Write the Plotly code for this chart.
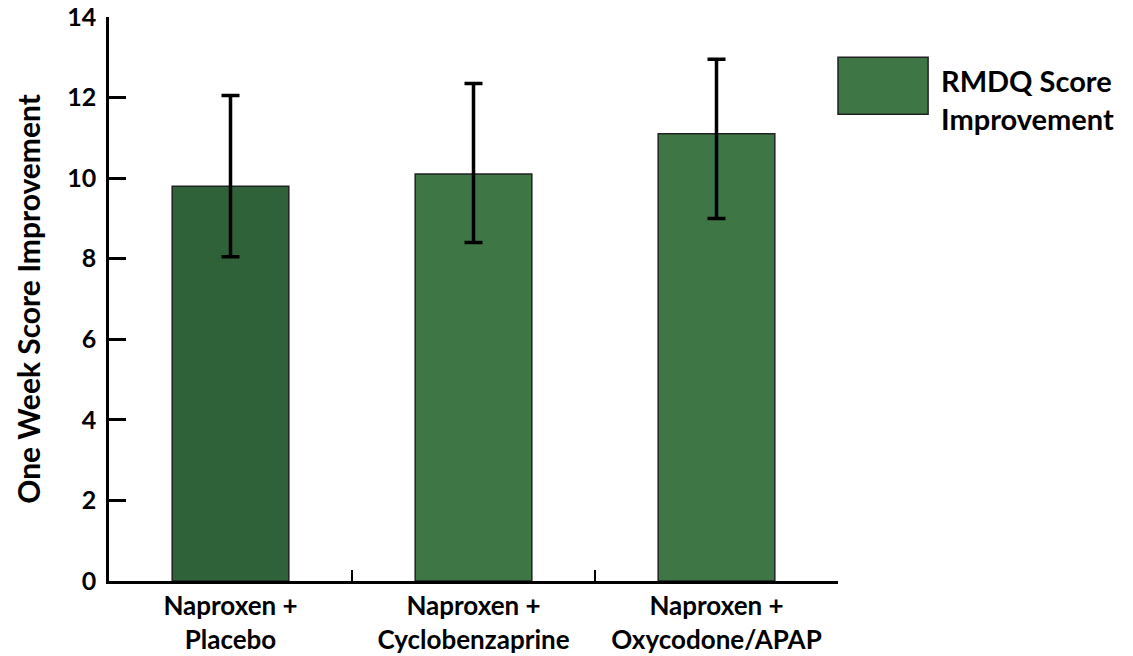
import plotly.graph_objects as go

# Treatment groups and one-week RMDQ score improvement
groups = ["Naproxen +<br>Placebo", "Naproxen +<br>Cyclobenzaprine", "Naproxen +<br>Oxycodone/APAP"]
improvement = [9.8, 10.1, 11.1]
err_upper = [2.25, 2.25, 1.85]   # distance to upper whisker
err_lower = [1.75, 1.7, 2.1]     # distance to lower whisker
bar_colors = ["#2f6238", "#3e7745", "#3e7745"]

y_ticks = [0, 2, 4, 6, 8, 10, 12, 14]

FONT = "Lato"

fig = go.Figure()
fig.add_trace(go.Bar(
    x=groups,
    y=improvement,
    width=0.48,
    marker=dict(color=bar_colors, line=dict(color="#222222", width=1.5)),
    error_y=dict(
        type="data", symmetric=False,
        array=err_upper, arrayminus=err_lower,
        color="black", thickness=3.5, width=9,
    ),
    showlegend=False,
))

# Legend swatch and label
fig.add_shape(type="rect", xref="paper", yref="paper",
              x0=1.0, x1=1.1236, y0=0.8274, y1=0.9288,
              fillcolor="#3e7745", line=dict(color="#222222", width=1.5))
fig.add_annotation(xref="paper", yref="paper", x=1.139, y=0.853,
                   xanchor="left", yanchor="middle", align="left",
                   showarrow=False,
                   text="<b>RMDQ Score<br>Improvement</b>",
                   font=dict(family=FONT, size=29, color="black"))

fig.update_layout(
    width=1133, height=656,
    margin=dict(l=109, r=295, t=17, b=75),
    paper_bgcolor="white", plot_bgcolor="white",
    font=dict(family=FONT, color="black"),
    bargap=0.52,
)

fig.update_xaxes(
    type="category", range=[-0.5, 2.5], automargin=False,
    showline=True, linecolor="black", linewidth=2.5,
    ticks="inside", tickson="boundaries", ticklen=11, tickwidth=2, tickcolor="black",
    tickfont=dict(family=FONT, size=26, color="black", weight="bold"),
    showgrid=False, zeroline=False,
)
fig.update_yaxes(
    range=[0, 14], tickvals=y_ticks, automargin=False,
    showline=True, linecolor="black", linewidth=2.5,
    ticks="inside", ticklen=17, tickwidth=2.5, tickcolor="black",
    tickfont=dict(family=FONT, size=25, color="black", weight="bold"),
    ticklabelstandoff=5,
    showgrid=False, zeroline=False,
    title=dict(text="<b>One Week Score Improvement</b>",
               font=dict(family=FONT, size=30, color="black"), standoff=18),
)

fig.write_html("out.html")
